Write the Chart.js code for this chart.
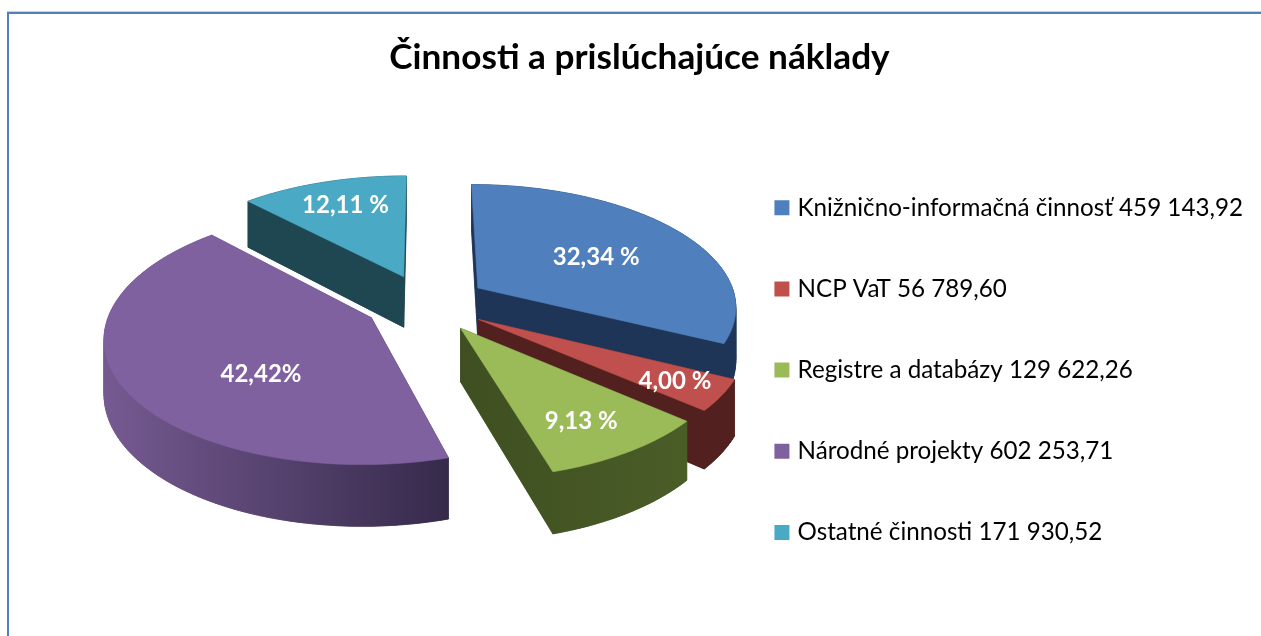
<!DOCTYPE html>
<html><head><meta charset="utf-8">
<script src="https://cdn.jsdelivr.net/npm/chart.js@4"></script>
<style>html,body{margin:0;padding:0;background:#fff}canvas{display:block}</style>
</head><body><canvas id="c" width="1261" height="636"></canvas>
<script>
const chartTitle = "Činnosti a prislúchajúce náklady";
const categories = ["Knižnično-informačná činnosť","NCP VaT","Registre a databázy","Národné projekty","Ostatné činnosti"];
const costs = [459143.92,56789.60,129622.26,602253.71,171930.52];
const percentLabels = ["32,34 %","4,00 %","9,13 %","42,42%","12,11 %"];
const faceColors = ["#4f7fbc","#c0504d","#9bbb59","#7f61a0","#4aa9c4"];
const wallColors = [["#1f3558","#1f3558"],["#52201f","#52201f"],["#3f4f21","#4a5d27"],["#755a91","#362a4b"],["#1f4752","#1f4752"]];
const paintOrder = [4,0,3,1,2];
const labelRadius = [.57,.82,.78,.48,.74];
const labelNudge = [[2,3],[0,0],[-7,0],[5,25],[3,0]];

const formatCost = v => v.toFixed(2).replace(/\B(?=(\d{3})+(?!\d))/g," ").replace(".",",");
const view = {cx:426, cy:303, R:259, tilt:.47, persp:.14, depth:52};

function project(u,v,drop){
  const s = 1/(1 - view.persp*v/view.R);
  return [view.cx + u*s, view.cy + view.tilt*v*s + (drop||0)*s];
}
function outline(el){
  const mid=(el.startAngle+el.endAngle)/2, e=el.options.offset;
  const ou=e*Math.cos(mid), ov=e*Math.sin(mid), pts=[];
  const n=Math.max(6,Math.ceil((el.endAngle-el.startAngle)*40));
  for(let i=0;i<=n;i++){
    const a=el.startAngle+(el.endAngle-el.startAngle)*i/n;
    pts.push([ou+view.R*Math.cos(a), ov+view.R*Math.sin(a)]);
  }
  return {apex:[ou,ov],arc:pts,mid,ou,ov};
}
function fillPoly(ctx,pts,fill){
  ctx.beginPath();
  pts.forEach((p,i)=> i?ctx.lineTo(p[0],p[1]):ctx.moveTo(p[0],p[1]));
  ctx.closePath();ctx.fillStyle=fill;ctx.strokeStyle=fill;ctx.lineWidth=.6;ctx.fill();ctx.stroke();
}
const pie3d = {
  id:"pie3d",
  beforeDraw(chart){
    const c=chart.ctx;c.save();
    c.fillStyle="#c9d3e0";c.fillRect(7,11,1254,1);
    c.fillStyle="#4f81bd";c.fillRect(7,12,1254,2);c.fillRect(7,12,2,624);
    c.restore();
  },
  beforeDatasetsDraw(chart){
    const c=chart.ctx, meta=chart.getDatasetMeta(0);
    c.save();
    paintOrder.forEach(i=>{
      const el=meta.data[i], o=outline(el);
      const loop=[o.apex,...o.arc];
      const top=loop.map(p=>project(p[0],p[1],0));
      const bot=loop.map(p=>project(p[0],p[1],view.depth));
      const xs=top.map(p=>p[0]);
      const g=c.createLinearGradient(Math.min(...xs),0,Math.max(...xs),0);
      g.addColorStop(0,wallColors[i][0]);g.addColorStop(1,wallColors[i][1]);
      fillPoly(c,bot,g);
      for(let k=0;k<loop.length;k++){
        const n=(k+1)%loop.length;
        fillPoly(c,[top[k],top[n],bot[n],bot[k]],g);
      }
      fillPoly(c,top,el.options.backgroundColor);
    });
    c.font="bold 24px Lato";c.fillStyle="#fff";c.textAlign="center";c.textBaseline="middle";
    meta.data.forEach((el,i)=>{
      const o=outline(el), r=view.R*labelRadius[i];
      const p=project(o.ou+r*Math.cos(o.mid),o.ov+r*Math.sin(o.mid),0);
      c.fillText(percentLabels[i],p[0]+labelNudge[i][0],p[1]+labelNudge[i][1]);
    });
    c.restore();
    return false;
  }
};
new Chart(document.getElementById("c"),{
  type:"pie",
  data:{
    labels:categories.map((n,i)=>n+" "+formatCost(costs[i])),
    datasets:[{data:costs,backgroundColor:faceColors,borderWidth:0,offset:62}]
  },
  options:{
    responsive:false,animation:false,
    layout:{padding:{left:26,right:8,top:37,bottom:0}},
    plugins:{
      tooltip:{enabled:false},
      title:{display:true,text:chartTitle,color:"#000",font:{family:"Lato",size:35.2,weight:"bold"},padding:{top:0,bottom:25}},
      legend:{position:"right",fullSize:false,labels:{color:"#000",font:{family:"Lato",size:24.2},boxWidth:7,boxHeight:15,usePointStyle:true,pointStyle:"rect",padding:57}}
    }
  },
  plugins:[pie3d]
});
</script></body></html>
